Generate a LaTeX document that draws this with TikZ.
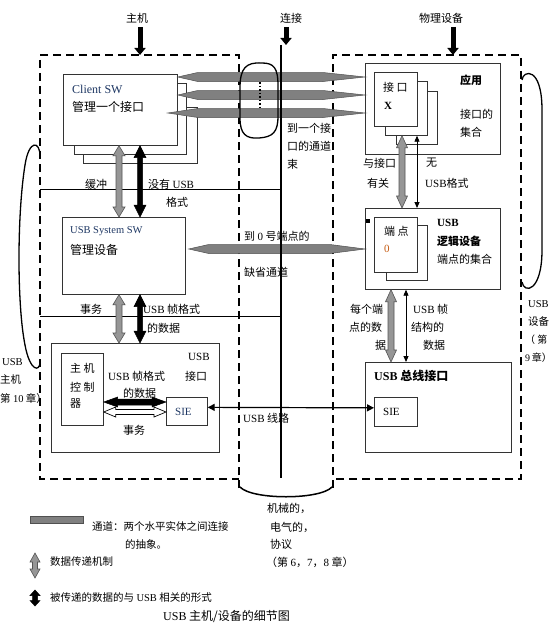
\documentclass[tikz,border=0pt]{standalone}
\usepackage{fontspec}
\setmainfont{Liberation Serif}
\newfontfamily\cjk{Noto Sans CJK SC}
\newfontfamily\latin{Liberation Serif}
\usetikzlibrary{arrows.meta,calc}
\definecolor{chanfill}{RGB}{128,128,128}
\definecolor{chanline}{RGB}{80,80,80}
\definecolor{gfill}{RGB}{150,150,150}
\definecolor{gline}{RGB}{85,85,85}
\definecolor{navy}{RGB}{31,56,100}
\definecolor{orng}{RGB}{197,90,17}
\newcommand\E[1]{{\latin #1}}
% vertical block double arrow: x, top point, bottom point, style, head length, head half width, shaft half width
\newcommand\vblock[7]{%
 \path[#4] let \p1=(#2), \p2=(#3), \p3=(#1,0) in
 (\x3,\y1) -- (\x3+#6pt,\y1-#5pt) -- (\x3+#7pt,\y1-#5pt) -- (\x3+#7pt,\y2+#5pt) -- (\x3+#6pt,\y2+#5pt)
 -- (\x3,\y2) -- (\x3-#6pt,\y2+#5pt) -- (\x3-#7pt,\y2+#5pt) -- (\x3-#7pt,\y1-#5pt) -- (\x3-#6pt,\y1-#5pt) -- cycle;}
% horizontal block double arrow: y, left point, right point, style, head length, head half height, shaft half height
\newcommand\hblock[7]{%
 \path[#4] let \p1=(#2), \p2=(#3), \p3=(0,#1) in
 (\x1,\y3) -- (\x1+#5pt,\y3+#6pt) -- (\x1+#5pt,\y3+#7pt) -- (\x2-#5pt,\y3+#7pt) -- (\x2-#5pt,\y3+#6pt)
 -- (\x2,\y3) -- (\x2-#5pt,\y3-#6pt) -- (\x2-#5pt,\y3-#7pt) -- (\x1+#5pt,\y3-#7pt) -- (\x1+#5pt,\y3-#6pt) -- cycle;}
% channel: left point, right point, y, left taper, right taper
\newcommand\chan[5]{%
 \path[chan] let \p1=(#1), \p2=(#2), \p3=(0,#3) in
 (\x1,\y3) -- (\x1+#4pt,\y3+4.5pt) -- (\x2-#5pt,\y3+4.5pt) -- (\x2,\y3) -- (\x2-#5pt,\y3-4.5pt) -- (\x1+#4pt,\y3-4.5pt) -- cycle;}
\begin{document}
\begin{tikzpicture}[x=1pt,y=-1pt,
  box/.style={draw=black!80, line width=0.7pt, fill=white, inner sep=0pt, anchor=north west},
  t/.style={inner sep=0pt, anchor=west, font=\cjk\fontsize{11}{13}\selectfont},
  tl/.style={inner sep=0pt, anchor=west, font=\cjk\fontsize{12}{14}\selectfont},
  ts/.style={inner sep=0pt, anchor=west, font=\cjk\fontsize{10.5}{12}\selectfont},
  dashbox/.style={line width=1.8pt, dash pattern=on 8pt off 5pt},
  chan/.style={fill=chanfill, draw=chanline, line width=0.5pt},
  gblock/.style={fill=gfill, draw=gline, line width=0.6pt},
  kblock/.style={fill=black, draw=black, line width=0.5pt},
  wblock/.style={fill=white, draw=black, line width=0.7pt},
  toparrow/.style={line width=5pt, -{Triangle[length=7pt,width=11pt]}},
  thinarr/.style={line width=0.9pt, {Triangle[length=6pt,width=5pt]}-{Triangle[length=6pt,width=5pt]}},
  usbline/.style={line width=1.2pt, {Triangle[length=7pt,width=7pt]}-{Triangle[length=7pt,width=7pt]}},
  brace/.style={line width=1.3pt}
]
\useasboundingbox (0,0) rectangle (554,626);
\fill[white] (0,0) rectangle (554,626);

% ---------- dashed regions and cylinder bottom ----------
\draw[dashbox] (239,488) -- (239,55) -- (40,55) -- (40,479) -- (239,479);
\draw[dashbox] (333,488) -- (333,55) -- (521,55) -- (521,479) -- (336,479);
\draw[line width=1.5pt] (240,487) .. controls (252,500) and (320,500) .. (332,487);

% ---------- layer separator lines ----------
\draw[line width=0.8pt] (40,189) -- (281,189);
\draw[line width=0.8pt] (40,316) -- (281,316);

% ---------- host boxes ----------
\node[box, minimum width=114, minimum height=56] (csw3) at (83,107) {};
\node[box, minimum width=112, minimum height=71] (csw2) at (74,83) {};
\node[box, minimum width=114, minimum height=71] (csw) at (63,74) {};
\node[box, minimum width=123, minimum height=77] (ssw) at (62,217) {};
\node[box, minimum width=168, minimum height=109] (hif) at (51,343) {};
\node[box, minimum width=42, minimum height=72] (hc) at (61,353) {};
\node[box, minimum width=41, minimum height=28] (hsie) at (166,397) {};

% ---------- device boxes ----------
\node[box, minimum width=135, minimum height=91] (app) at (365,63) {};
\node[box, minimum width=41, minimum height=53] (ifx3) at (396,91) {};
\node[box, minimum width=42, minimum height=54] (ifx2) at (385,81) {};
\node[box, minimum width=43, minimum height=54] (ifx) at (374,72) {};
\node[box, minimum width=135, minimum height=81] (ldev) at (365,208) {};
\node[box, minimum width=41, minimum height=55] (ep2) at (386,225) {};
\node[box, minimum width=43, minimum height=55] (ep) at (374,217) {};
\node[fill=black, inner sep=0pt, minimum size=3.5] (sq) at (368,221) {};
\node[box, minimum width=146, minimum height=90] (bif) at (365,362) {};
\node[box, minimum width=43, minimum height=29] (dsie) at (374,397) {};

% ---------- channels ----------
\chan{csw.east}{app.west}{77}{20}{42}
\chan{csw.east}{app.west}{95}{20}{42}
\chan{$(csw.east)+(-10,0)$}{app.west}{113}{30}{42}
\chan{$(ssw.east)+(3,0)$}{ldev.west}{249}{20}{35}

% ---------- connection line, bundle loop ----------
\coordinate (cT) at (281,45);
\coordinate (cB) at (281,478);
\draw[line width=2.5pt] (cT) -- (cB);
\draw[line width=1.3pt] (262,63) .. controls (246,62) and (240,68) .. (240,88) -- (240,118)
  .. controls (240,134) and (246,139) .. (259,138) .. controls (273,137) and (278,132) .. (278,116)
  -- (278,86) .. controls (278,68) and (274,63) .. (262,63);
\draw[line width=1.5pt, dash pattern=on 1.5pt off 2pt] (260,82) -- (260,108);

% ---------- top labels ----------
\node[t, anchor=center] (lh) at (137,18) {主机};
\node[t, anchor=center] (lc) at (291,18) {连接};
\node[t, anchor=center] (ld) at (441,18) {物理设备};
\coordinate (hT) at (140,55);
\coordinate (cA) at (286,45);
\coordinate (dT) at (453,55);
\draw[toparrow] (hT |- 0,27) -- (hT);
\draw[toparrow] (cA |- 0,27) -- (cA);
\draw[toparrow] (dT |- 0,27) -- (dT);

% ---------- block arrows ----------
\vblock{119}{csw.south}{ssw.north}{gblock}{10}{6}{3}
\vblock{140}{csw.south}{ssw.north}{kblock}{12}{6}{2.5}
\vblock{119}{ssw.south}{hif.north}{gblock}{10}{6}{3}
\vblock{140}{ssw.south}{hif.north}{kblock}{12}{6}{2.5}
\vblock{402}{ifx2.south}{ldev.north}{gblock}{12}{5.5}{3}
\vblock{391}{ldev.south}{bif.north}{gblock}{12}{5.5}{3}
\coordinate (ax1) at (417,0);
\coordinate (ax2) at (406,0);
\draw[thinarr] (ifx2.south -| ax1) -- (ldev.north -| ax1);
\draw[thinarr] (ldev.south -| ax2) -- (bif.north -| ax2);
\hblock{402}{hc.east}{hsie.west}{kblock}{14}{5}{3}
\hblock{412}{hc.east}{hsie.west}{wblock}{12}{5}{2.5}
\draw[usbline] ($(hsie.east)+(0,-4)$) -- ($(dsie.west)+(0,-4)$);

% ---------- host texts ----------
\node[tl, font=\latin\fontsize{12}{14}\selectfont, text=navy] (x1) at (72,89) {Client SW};
\node[tl] (x2) at (72,107) {管理一个接口};
\node[t] (x3) at (85,184) {缓冲};
\node[t] (x4) at (148,184) {没有 \E{USB}};
\node[t] (x5) at (166,202) {格式};
\node[tl, font=\latin\fontsize{10.5}{12}\selectfont, text=navy] (x6) at (70,231) {USB System SW};
\node[tl] (x7) at (70,250) {管理设备};
\node[t] (x8) at (80,309) {事务};
\node[t] (x9) at (143,309) {\E{USB} 帧格式};
\node[t] (x10) at (147,328) {的数据};
\node[t] (x11) at (70,368) {主 机};
\node[t] (x12) at (70,387) {控 制};
\node[t] (x13) at (70,404) {器};
\node[t] (x14) at (188,357) {\E{USB}};
\node[t] (x15) at (185,376) {接口};
\node[t] (x16) at (108,376) {\E{USB} 帧格式};
\node[t] (x17) at (123,393) {的数据};
\node[t, font=\latin\fontsize{11}{13}\selectfont, text=navy] (x18) at (175,412) {SIE};
\node[t] (x19) at (123,430) {事务};

% ---------- connection texts ----------
\node[t] (c1) at (287,128) {到一个接};
\node[t] (c2) at (287,146) {口的通道};
\node[t] (c3) at (287,164) {束};
\node[t] (c4) at (244,236) {到 \E{0} 号端点的};
\node[t] (c5) at (244,272) {缺省通道};
\node[t] (c6) at (243,418) {\E{USB} 线路};
\node[t] (c7) at (267,508) {机械的，};
\node[t] (c8) at (270,527) {电气的，};
\node[t] (c9) at (270,544) {协议};
\node[t] (c10) at (266,562) {（第 \E{6}，\E{7}，\E{8} 章）};

% ---------- device texts ----------
\node[t] (d1) at (383,87) {接 口};
\node[t, font=\latin\bfseries\fontsize{11}{13}\selectfont] (d2) at (384,106) {X};
\node[t, font=\cjk\bfseries\fontsize{11}{13}\selectfont] (d3) at (460,80) {应用};
\node[t] (d4) at (460,114) {接口的};
\node[t] (d5) at (460,132) {集合};
\node[t] (d6) at (363,163) {与接口};
\node[t] (d7) at (367,183) {有关};
\node[t] (d8) at (426,163) {无};
\node[t] (d9) at (425,183) {\E{USB}格式};
\node[t] (d10) at (384,231) {端 点};
\node[t, font=\latin\fontsize{11}{13}\selectfont, text=orng] (d11) at (384,249) {0};
\node[t, font=\latin\bfseries\fontsize{11}{13}\selectfont] (d12) at (437,223) {USB};
\node[t, font=\cjk\bfseries\fontsize{11}{13}\selectfont] (d13) at (437,241) {逻辑设备};
\node[t] (d14) at (437,259) {端点的集合};
\node[t] (d15) at (350,309) {每个端};
\node[t] (d16) at (349,327) {点的数};
\node[t] (d17) at (375,345) {据};
\node[t] (d18) at (413,309) {\E{USB} 帧};
\node[t] (d19) at (411,327) {结构的};
\node[t] (d20) at (423,345) {数据};
\node[tl, font=\cjk\bfseries\fontsize{12}{14}\selectfont] (d21) at (374,376) {\E{\bfseries USB} 总线接口};
\node[t, font=\latin\fontsize{11}{13}\selectfont] (d22) at (383,412) {SIE};

% ---------- side brackets ----------
\draw[brace] (40,156) .. controls (40,141) and (29,139) .. (25,165)
  .. controls (17,215) and (17,305) .. (25,345) .. controls (30,372) and (40,372) .. (40,362);
\node[ts, font=\latin\fontsize{10.5}{12}\selectfont] (s1) at (2,362) {USB};
\node[ts] (s2) at (0,380) {主机};
\node[ts] (s3) at (0,399) {第 \E{10} 章）};
\draw[brace] (522,80) .. controls (523,70) and (542,66) .. (542,110)
  -- (542,250) .. controls (542,292) and (524,294) .. (522,282);
\node[ts, font=\latin\fontsize{10.5}{12}\selectfont] (s4) at (528,304) {USB};
\node[ts] (s5) at (528,322) {设备};
\node[ts, font=\cjk\fontsize{10}{12}\selectfont] (s6) at (525,340) {（ 第};
\node[ts, font=\cjk\fontsize{10}{12}\selectfont] (s7) at (525,358) {\E{9}\,章）};

% ---------- legend ----------
\node[chan, minimum width=53, minimum height=7, inner sep=0pt, anchor=north west] (lg1) at (30,516) {};
\node[ts] (lg2) at (92,526) {通道：两个水平实体之间连接};
\node[ts] (lg3) at (125,544) {的抽象。};
\coordinate (lgA) at (35,553);
\coordinate (lgB) at (35,578);
\vblock{35}{lgA}{lgB}{gblock}{9}{5}{2.5}
\node[ts] (lg4) at (50,562) {数据传递机制};
\coordinate (lgC) at (35,590);
\coordinate (lgD) at (35,606);
\vblock{35}{lgC}{lgD}{kblock}{5.5}{5}{2.5}
\node[ts] (lg5) at (50,598) {被传递的数据的与 \E{USB} 相关的形式};
\node[tl] (cap) at (163,617) {\E{USB} 主机/设备的细节图};
\end{tikzpicture}
\end{document}
